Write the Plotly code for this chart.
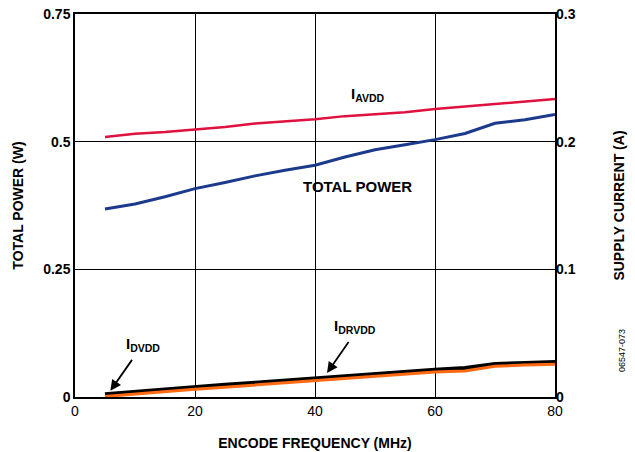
import plotly.graph_objs as go
from plotly.subplots import make_subplots

# Data
freq_mhz = [5, 10, 15, 20, 25, 30, 35, 40, 45, 50, 55, 60, 65, 70, 75, 80]
total_power_w = [0.368, 0.378, 0.392, 0.408, 0.420, 0.433, 0.444, 0.454, 0.470, 0.484, 0.494,
                 0.504, 0.516, 0.536, 0.543, 0.553]
i_avdd_a = [0.2037, 0.2062, 0.2076, 0.2095, 0.2115, 0.2143, 0.2160, 0.2176, 0.2200, 0.2215,
            0.2230, 0.2255, 0.2275, 0.2295, 0.2315, 0.2334]
i_dvdd_a = [0.0020, 0.0040, 0.0058, 0.0076, 0.0094, 0.0110, 0.0128, 0.0146, 0.0163, 0.0180,
            0.0195, 0.0211, 0.0225, 0.0256, 0.0265, 0.0272]
i_drvdd_a = [0.0004, 0.0024, 0.0042, 0.0060, 0.0077, 0.0094, 0.0110, 0.0125, 0.0144, 0.0163,
             0.0180, 0.0196, 0.0204, 0.0241, 0.0250, 0.0256]

left_ticks = [0, 0.25, 0.5, 0.75]
left_ticktext = ['0', '0.25', '0.5', '0.75']
right_ticks = [0, 0.1, 0.2, 0.3]
right_ticktext = ['0', '0.1', '0.2', '0.3']
x_ticks = [0, 20, 40, 60, 80]

font_family = 'Liberation Sans, Arial, sans-serif'

fig = make_subplots(specs=[[{'secondary_y': True}]])

fig.add_trace(go.Scatter(x=freq_mhz, y=total_power_w, mode='lines',
                         line=dict(color='#1B3A8C', width=3)), secondary_y=False)
fig.add_trace(go.Scatter(x=freq_mhz, y=i_avdd_a, mode='lines',
                         line=dict(color='#E0103F', width=2.5)), secondary_y=True)
fig.add_trace(go.Scatter(x=freq_mhz, y=i_dvdd_a, mode='lines',
                         line=dict(color='#000000', width=4.5)), secondary_y=True)
fig.add_trace(go.Scatter(x=freq_mhz, y=i_drvdd_a, mode='lines',
                         line=dict(color='#FF6A13', width=3)), secondary_y=True)

bold = dict(family=font_family, size=14, color='#000000')

fig.update_xaxes(range=[0, 80], tickvals=x_ticks, showgrid=True, gridcolor='#000000', gridwidth=1,
                 showline=True, linecolor='#000000', linewidth=1.5, mirror=True, ticks='',
                 zeroline=False, tickfont=bold, automargin=False, domain=[0, 1],
                 title=dict(text='<b>ENCODE FREQUENCY (MHz)</b>', font=bold, standoff=21))
fig.update_yaxes(range=[0, 0.75], tickvals=left_ticks, ticktext=['<b>%s</b>' % t for t in left_ticktext],
                 showgrid=True, gridcolor='#000000', gridwidth=1, showline=True, linecolor='#000000',
                 linewidth=1.5, mirror=True, ticks='', zeroline=False, tickfont=bold, automargin=False,
                 title=dict(text='<b>TOTAL POWER (W)</b>', font=bold, standoff=16),
                 secondary_y=False)
fig.update_yaxes(range=[0, 0.3], tickvals=right_ticks, ticktext=['<b>%s</b>' % t for t in right_ticktext],
                 showgrid=False, showline=False, ticks='', zeroline=False, tickfont=bold, automargin=False,
                 title=dict(text='<b>SUPPLY CURRENT (A)</b>', font=bold, standoff=39),
                 secondary_y=True)

# Text labels and arrows
label_font = dict(family=font_family, size=15, color='#000000')
fig.add_annotation(x=48.8, y=0.592, text='<b>I<sub>AVDD</sub></b>', showarrow=False, font=label_font)
fig.add_annotation(x=47, y=0.413, text='<b>TOTAL POWER</b>', showarrow=False,
                   font=dict(family=font_family, size=15, color='#000000'))
fig.add_annotation(x=11.3, y=0.103, text='<b>I<sub>DVDD</sub></b>', showarrow=False, font=label_font)
fig.add_annotation(x=46.7, y=0.138, text='<b>I<sub>DRVDD</sub></b>', showarrow=False, font=label_font)
fig.add_annotation(x=5.9, y=0.012, ax=23, ay=-33, text=' ', showarrow=True,
                   arrowhead=2, arrowsize=1.2, arrowwidth=1.8, arrowcolor='#000000', font=dict(size=1))
fig.add_annotation(x=42, y=0.047, ax=23, ay=-33, text=' ', showarrow=True,
                   arrowhead=2, arrowsize=1.2, arrowwidth=1.8, arrowcolor='#000000', font=dict(size=1))
fig.add_annotation(x=1.0, y=0.12, xref='paper', yref='paper', xanchor='center', yanchor='middle',
                   xshift=67, text='06547-073', textangle=-90, showarrow=False,
                   font=dict(family=font_family, size=9, color='#000000'))

fig.update_layout(width=635, height=452, showlegend=False,
                  plot_bgcolor='#ffffff', paper_bgcolor='#ffffff',
                  margin=dict(l=75, r=80, t=14, b=55))

# drop the default 8px page margin so the figure sits at the window corner
fig.write_html('out.html', config={'displayModeBar': False},
               post_script="document.body.style.margin = '0';")
